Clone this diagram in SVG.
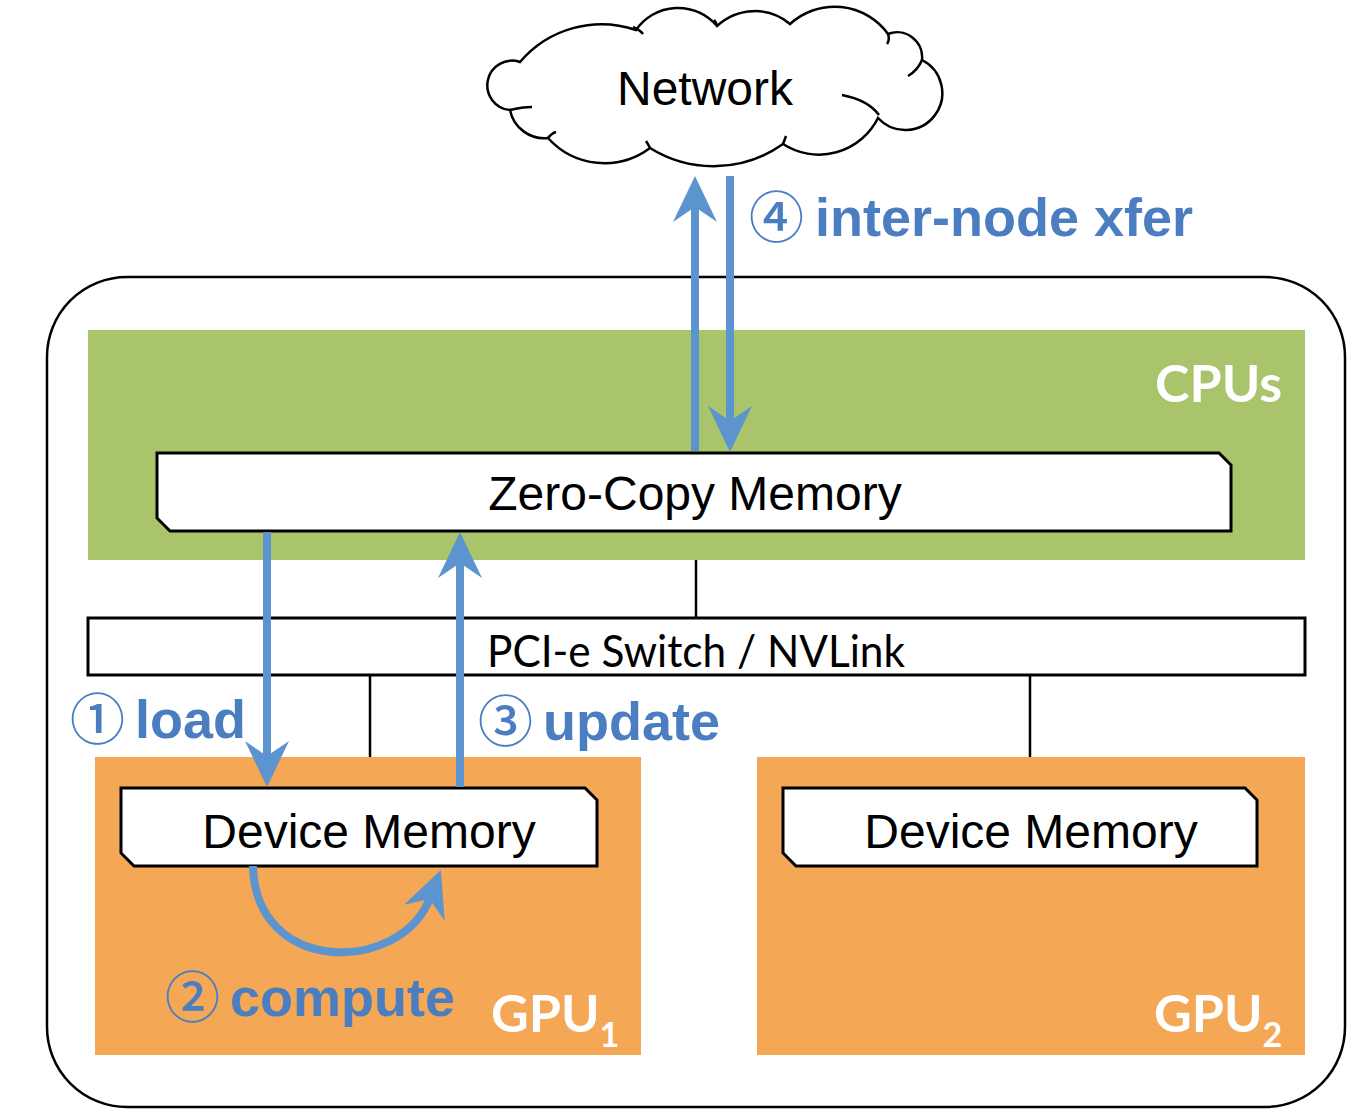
<svg xmlns="http://www.w3.org/2000/svg" width="1347" height="1109" viewBox="0 0 1347 1109">
<style>
.box{fill:#ffffff;stroke:#000000;stroke-width:3}
.thin{fill:none;stroke:#000000;stroke-width:2.5}
.flow{fill:none;stroke:#5B94CF;stroke-width:8}
.lbl{font-family:"Liberation Sans",Arial,sans-serif;font-size:48px;fill:#000000;text-anchor:middle}
.cal{font-family:Lato,"Open Sans",sans-serif;font-size:44px;fill:#000000;text-anchor:middle}
.wht{font-family:Lato,"Open Sans",sans-serif;font-weight:bold;font-size:52px;fill:#ffffff}
.blue{font-family:"Liberation Sans",Arial,sans-serif;font-weight:bold;font-size:54px;fill:#4B7DC1}
.circ{font-family:"Noto Sans CJK JP","DejaVu Sans",sans-serif;font-weight:500;font-size:55px;fill:#4B7DC1}
</style>
<defs>
<marker id="ah" viewBox="0 0 46 44" markerWidth="46" markerHeight="44" refX="16" refY="22" markerUnits="userSpaceOnUse" orient="auto">
<path d="M46 22 L0 0 L15 22 L0 44 Z" fill="#5B94CF"/>
</marker>
</defs>
<rect width="1347" height="1109" fill="#ffffff"/>

<g id="node-outer">
<rect x="47" y="277" width="1298" height="830" rx="80" ry="80" fill="none" stroke="#000000" stroke-width="2.5"/>
</g>

<g id="node-cpus">
<rect x="88" y="330" width="1217" height="230" fill="#A9C46A"/>
<text class="wht" x="1282" y="402" text-anchor="end">CPUs</text>
</g>

<g id="node-gpu1">
<rect x="95" y="757" width="546" height="298" fill="#F4A755"/>
<text class="wht" x="491" y="1032">GPU<tspan font-size="34" dy="15">1</tspan></text>
</g>

<g id="node-gpu2">
<rect x="757" y="757" width="548" height="298" fill="#F4A755"/>
<text class="wht" x="1154" y="1032">GPU<tspan font-size="34" dy="15">2</tspan></text>
</g>

<g id="node-network">
<path d="M520 62 A107 107 0 0 1 636 30 A51 51 0 0 1 717 26 A55 55 0 0 1 790 24 A66 66 0 0 1 888 34 A25 25 0 0 1 922 60 A37 37 0 1 1 878 118 A66 66 0 0 1 783 144 A120 120 0 0 1 650 148 A76 76 0 0 1 548 138 A35 35 0 0 1 510 110 A24.7 24.7 0 1 1 520 62 Z" fill="#ffffff" stroke="#000000" stroke-width="2.5"/>
<path d="M633 27 Q640 30 643 34 M717 26 Q716 22 714 20 M888 34 Q890 40 887 44 M922 60 Q918 70 908 76 M842 95 Q868 100 879 115 M783 144 Q785 139 786 136 M650 148 Q648 144 646 141 M548 138 Q552 133 556 132 M510 110 Q522 107 532 107" fill="none" stroke="#000000" stroke-width="2.5"/>
<text class="lbl" x="705" y="105">Network</text>
</g>

<g id="node-zerocopy">
<path class="box" d="M157 453 L1219 453 L1231 465 L1231 531 L170 531 L157 518 Z"/>
<text class="lbl" x="695" y="510">Zero-Copy Memory</text>
</g>

<g id="node-pcie">
<rect class="box" x="88" y="618" width="1217" height="57"/>
<text class="cal" x="696" y="667" textLength="418" lengthAdjust="spacingAndGlyphs">PCI-e Switch / NVLink</text>
</g>

<g id="node-devmem1">
<path class="box" d="M121 788 L585 788 L597 800 L597 866 L134 866 L121 853 Z"/>
<text class="lbl" x="369" y="848">Device Memory</text>
</g>

<g id="node-devmem2">
<path class="box" d="M783 788 L1245 788 L1257 800 L1257 866 L796 866 L783 853 Z"/>
<text class="lbl" x="1031" y="848">Device Memory</text>
</g>

<g id="connectors">
<line class="thin" x1="696" y1="560" x2="696" y2="618"/>
<line class="thin" x1="370" y1="675" x2="370" y2="757"/>
<line class="thin" x1="1030" y1="675" x2="1030" y2="757"/>
<line class="flow" x1="695" y1="451" x2="695" y2="206" marker-end="url(#ah)"/>
<line class="flow" x1="730" y1="176" x2="730" y2="422" marker-end="url(#ah)"/>
<line class="flow" x1="267" y1="532" x2="267" y2="757" marker-end="url(#ah)"/>
<line class="flow" x1="460" y1="787" x2="460" y2="562" marker-end="url(#ah)"/>
<path class="flow" d="M253 866 C255 975 400 975 430 898" marker-end="url(#ah)"/>
</g>

<g id="labels">
<text class="blue" x="815" y="236"><tspan class="circ" x="749" y="237">④</tspan><tspan x="815" y="236">inter-node xfer</tspan></text>
<text class="blue" x="135" y="738"><tspan class="circ" x="70" y="739">①</tspan><tspan x="135" y="738">load</tspan></text>
<text class="blue" x="543" y="740"><tspan class="circ" x="478" y="741">③</tspan><tspan x="543" y="740">update</tspan></text>
<text class="blue" x="230" y="1016"><tspan class="circ" x="165" y="1017">②</tspan><tspan x="230" y="1016">compute</tspan></text>
</g>
</svg>
